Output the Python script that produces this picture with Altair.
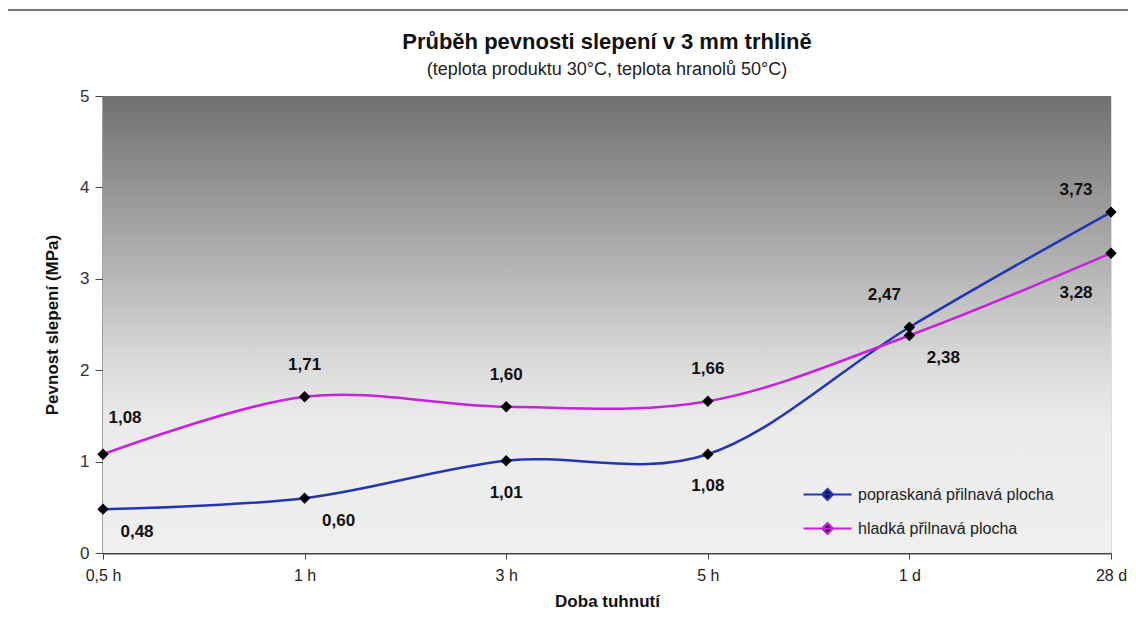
import altair as alt
import pandas as pd

title_text = "Průběh pevnosti slepení v 3 mm trhlině"
subtitle_text = "(teplota produktu 30°C, teplota hranolů 50°C)"
categories = ["0,5 h", "1 h", "3 h", "5 h", "1 d", "28 d"]
series_names = ["popraskaná přilnavá plocha", "hladká přilnavá plocha"]
popraskana = [0.48, 0.60, 1.01, 1.08, 2.47, 3.73]
hladka = [1.08, 1.71, 1.60, 1.66, 2.38, 3.28]
# label placement keywords for each point
popraskana_pos = ["below_right", "below_right", "below", "below", "above_left", "above_left_far"]
hladka_pos = ["above_right", "above", "above", "above", "below_right", "below_left"]

offsets = {
    "below_right": (34, 23),
    "below": (0, 32),
    "above_left": (-25, -32),
    "above_left_far": (-35, -22),
    "above_right": (22, -36),
    "above": (0, -32),
    "below_left": (-35, 40),
}

rows = []
for name, vals, pos in [(series_names[0], popraskana, popraskana_pos),
                        (series_names[1], hladka, hladka_pos)]:
    for c, v, p in zip(categories, vals, pos):
        rows.append({"doba": c, "serie": name, "hodnota": v,
                     "label": f"{v:.2f}".replace(".", ","), "pos": p})
df = pd.DataFrame(rows)

W, H = 1008, 457
FONT = "Liberation Sans"

x_enc = alt.X("doba:N", sort=categories,
              scale=alt.Scale(type="point", padding=0),
              axis=alt.Axis(title="Doba tuhnutí", labelAngle=0, labelFont=FONT,
                            labelFontSize=16, labelColor="#222", labelPadding=8,
                            titleFont=FONT, titleFontSize=17, titleFontWeight="bold",
                            titleColor="#111", titlePadding=10, tickSize=6,
                            tickColor="#444", domainColor="#444", domainWidth=2,
                            grid=False))
y_enc = alt.Y("hodnota:Q", scale=alt.Scale(domain=[0, 5], nice=False),
              axis=alt.Axis(title="Pevnost slepení (MPa)", values=[0, 1, 2, 3, 4, 5],
                            labelFont=FONT, labelFontSize=17, labelColor="#333",
                            labelPadding=6, titleFont=FONT, titleFontSize=17,
                            titleFontWeight="bold", titleColor="#111", titlePadding=18,
                            tickSize=8, tickColor="#444", domainColor="#444",
                            domainWidth=2, grid=False))

one = pd.DataFrame({"a": [0]})

frame = alt.Chart(one).mark_rect(
    fill="white", fillOpacity=0, stroke="#777", strokeWidth=2
).encode(x=alt.value(-96), x2=alt.value(W + 40), y=alt.value(-86), y2=alt.value(H + 120))

title_mark = alt.Chart(one).mark_text(
    font=FONT, fontSize=22, fontWeight="bold", color="#111", align="center", baseline="middle"
).encode(x=alt.value(W / 2), y=alt.value(-54), text=alt.value(title_text))

subtitle_mark = alt.Chart(one).mark_text(
    font=FONT, fontSize=18, color="#222", align="center", baseline="middle"
).encode(x=alt.value(W / 2), y=alt.value(-26), text=alt.value(subtitle_text))

bg = alt.Chart(one).mark_rect(
    color=alt.Gradient(gradient="linear", x1=0, x2=0, y1=0, y2=1,
                       stops=[alt.GradientStop(offset=0, color="#707070"),
                              alt.GradientStop(offset=0.3, color="#a6a6a6"),
                              alt.GradientStop(offset=0.6, color="#dddddd"),
                              alt.GradientStop(offset=0.72, color="#ebebeb"),
                              alt.GradientStop(offset=1, color="#efefef")])
).encode(x=alt.value(0), x2=alt.value(W), y=alt.value(0), y2=alt.value(H))

legend_path = "M-2,0L2,0M0,-0.45L0.45,0L0,0.45L-0.45,0Z"

lines = alt.Chart(df).mark_line(interpolate="cardinal", strokeWidth=2.5).encode(
    x=x_enc, y=y_enc,
    stroke=alt.Stroke("serie:N", sort=series_names,
                      scale=alt.Scale(domain=series_names, range=["#2236b4", "#c81fe0"]),
                      legend=alt.Legend(title=None, orient="none", legendX=711, legendY=385,
                                        symbolType=legend_path, symbolSize=576,
                                        symbolStrokeWidth=2.2, symbolFillColor="black",
                                        labelFont=FONT, labelFontSize=16, labelColor="#222",
                                        labelLimit=0, rowPadding=10, labelOffset=17)),
)

points = alt.Chart(df).mark_point(shape="diamond", filled=True, color="black",
                                  size=130, opacity=1).encode(x=x_enc, y=y_enc)

text_layers = []
for p, (dx, dy) in offsets.items():
    text_layers.append(
        alt.Chart(df).transform_filter(alt.datum.pos == p).mark_text(
            font=FONT, fontSize=17, fontWeight="bold", color="#111", dx=dx, dy=dy,
            align="center", baseline="middle"
        ).encode(x=x_enc, y=y_enc, text="label:N")
    )

chart = alt.layer(frame, title_mark, subtitle_mark, bg, lines, points, *text_layers).properties(
    width=W, height=H,
    autosize=alt.AutoSizeParams(type="none"),
    padding={"left": 95, "top": 88, "right": 17, "bottom": 70},
).configure_view(stroke="#555", strokeWidth=2).configure(background="white")

chart.save("out.html", embed_options={"renderer": "svg", "actions": False})
